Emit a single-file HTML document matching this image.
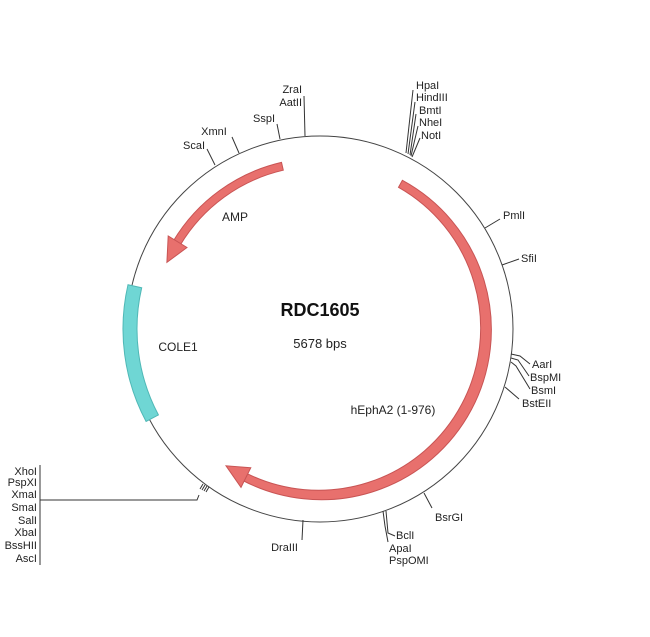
<!DOCTYPE html>
<html><head><meta charset="utf-8"><style>
html,body{margin:0;padding:0;background:#fff;}
svg{display:block;font-family:"Liberation Sans",Arial,sans-serif;}
text{font-size:11px;fill:#222;}
</style></head><body>
<svg id="s" width="650" height="637" viewBox="0 0 650 637" xmlns="http://www.w3.org/2000/svg">
<circle cx="320" cy="329" r="193" fill="none" stroke="#444" stroke-width="1"/>
<g id="arcs"></g>
<g stroke="#333" stroke-width="1" fill="none">
<polyline points="215,165 207,149"/>
<polyline points="239,153 232,137"/>
<polyline points="280,139 277,124"/>
<polyline points="305,136 304,96"/>
<polyline points="406,153 413,90"/>
<polyline points="408,154 415,102"/>
<polyline points="410,155 416,114"/>
<polyline points="411,156 418,126"/>
<polyline points="412,157 420,138"/>
<polyline points="485,228 500,219"/>
<polyline points="502,265 519,259"/>
<polyline points="511,354 520,356 530,364"/>
<polyline points="511,358 518,360 529,376"/>
<polyline points="511,362 516,366 530,389"/>
<polyline points="505,387 519,399"/>
<polyline points="424,493 432,508"/>
<polyline points="383,511 385,526 388,542"/>
<polyline points="386,511 388,533 395,536"/>
<polyline points="303,520 302,540"/>
<polyline points="200,489 203,484"/>
<polyline points="202,490 205,485"/>
<polyline points="204,491 207,486"/>
<polyline points="206,492 209,487"/>
<polyline points="199,495 197,500 40,500"/>
<polyline points="40,465 40,565"/>
</g>
<g>
<text x="205" y="149" text-anchor="end">ScaI</text>
<text x="214" y="135" text-anchor="middle">XmnI</text>
<text x="275" y="122" text-anchor="end">SspI</text>
<text x="302" y="93" text-anchor="end">ZraI</text>
<text x="302" y="106" text-anchor="end">AatII</text>
<text x="416" y="89">HpaI</text>
<text x="416" y="101">HindIII</text>
<text x="419" y="114">BmtI</text>
<text x="419" y="126">NheI</text>
<text x="421" y="139">NotI</text>
<text x="503" y="219">PmlI</text>
<text x="521" y="262">SfiI</text>
<text x="532" y="368">AarI</text>
<text x="530" y="381">BspMI</text>
<text x="531" y="394">BsmI</text>
<text x="522" y="407">BstEII</text>
<text x="435" y="521">BsrGI</text>
<text x="396" y="539">BclI</text>
<text x="389" y="552">ApaI</text>
<text x="389" y="564">PspOMI</text>
<text x="298" y="551" text-anchor="end">DraIII</text>
<text x="37" y="475" text-anchor="end">XhoI</text>
<text x="37" y="486" text-anchor="end">PspXI</text>
<text x="37" y="498" text-anchor="end">XmaI</text>
<text x="37" y="511" text-anchor="end">SmaI</text>
<text x="37" y="524" text-anchor="end">SalI</text>
<text x="37" y="536" text-anchor="end">XbaI</text>
<text x="37" y="549" text-anchor="end">BssHII</text>
<text x="37" y="562" text-anchor="end">AscI</text>
<text x="320" y="316" text-anchor="middle" style="font-size:18px;font-weight:bold;fill:#111">RDC1605</text>
<text x="320" y="348" text-anchor="middle" style="font-size:13px">5678 bps</text>
<text x="178" y="351" text-anchor="middle" style="font-size:12px">COLE1</text>
<text x="235" y="221" text-anchor="middle" style="font-size:12px">AMP</text>
<text x="393" y="414" text-anchor="middle" style="font-size:12px">hEphA2 (1-976)</text>
</g>
</svg>
<script>
var cx=320,cy=329,NS="http://www.w3.org/2000/svg",g=document.getElementById("arcs");
function P(r,a){a=a*Math.PI/180;return [cx+r*Math.cos(a),cy+r*Math.sin(a)];}
function f(p){return p[0].toFixed(1)+","+p[1].toFixed(1);}
function band(r1,r2,a1,a2){ // a1<a2 clockwise
 var lg=(a2-a1)>180?1:0;
 return "M"+f(P(r2,a1))+"A"+r2+","+r2+" 0 "+lg+" 1 "+f(P(r2,a2))+"L"+f(P(r1,a2))+"A"+r1+","+r1+" 0 "+lg+" 0 "+f(P(r1,a1))+"Z";
}
function add(d,fill,stroke){var p=document.createElementNS(NS,"path");p.setAttribute("d",d);p.setAttribute("fill",fill);p.setAttribute("stroke",stroke);p.setAttribute("stroke-width","1");g.appendChild(p);}
// cyan COLE1
add(band(183,197,152,193),"#6fd6d4","#4fb8b6");
// hEphA2: clockwise from 299 to 123 (i.e. -61 -> 123)
var r=166,w=4;
var s=-61,e=117;
var d=band(r-w,r+w,s,e);
add(d,"#e8706d","#c85454");
var tip=P(r,124.5),b1=P(r-11,116.5),b2=P(r+11,116.5);
add("M"+f(b1)+"L"+f(tip)+"L"+f(b2)+"Z","#e8706d","#c85454");
// AMP counterclockwise from 257 to ~205
var ra=167;
add(band(ra-w,ra+w,211,257),"#e8706d","#c85454");
tip=P(ra,203.5);b1=P(ra-11,211.5);b2=P(ra+11,211.5);
add("M"+f(b1)+"L"+f(tip)+"L"+f(b2)+"Z","#e8706d","#c85454");
</script>
</body></html>
